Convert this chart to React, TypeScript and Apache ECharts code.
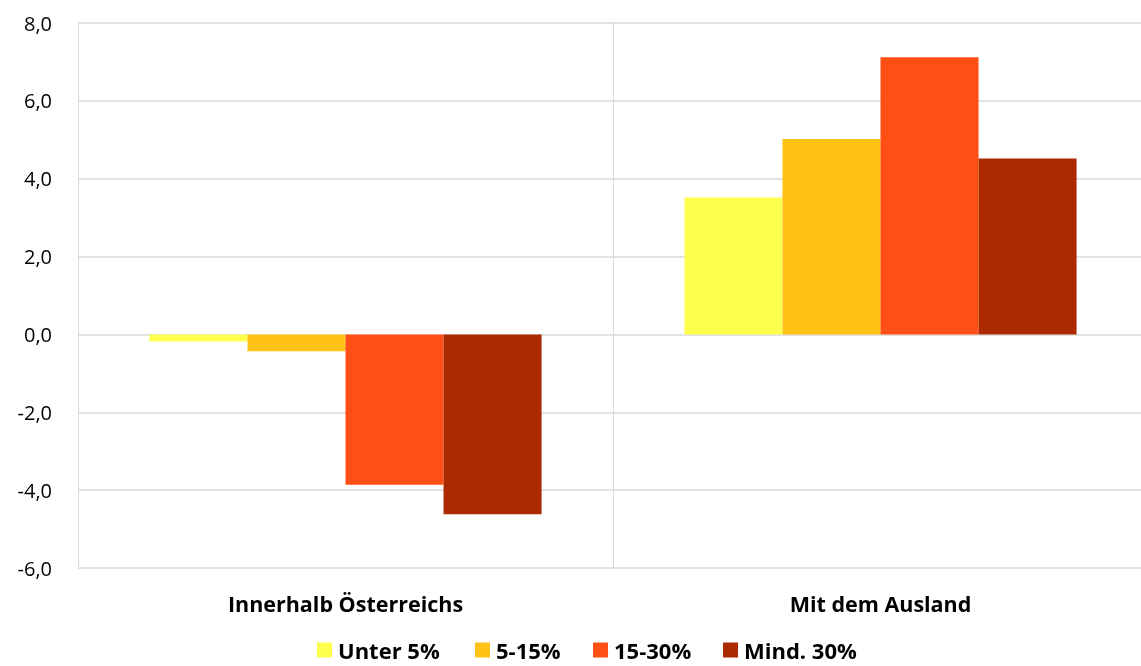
import React, { useEffect, useRef } from "react";
import * as echarts from "echarts";

const categories = ["Innerhalb Österreichs", "Mit dem Ausland"];
const seriesNames = ["Unter 5%", "5-15%", "15-30%", "Mind. 30%"];
const unter5 = [-0.18, 3.52];
const p5_15 = [-0.43, 5.02];
const p15_30 = [-3.86, 7.12];
const mind30 = [-4.62, 4.52];
const colors = ["#FFFF4D", "#FFC217", "#FF4F14", "#AD2A00"];
const legendLefts = [317, 475, 593, 723];

export default function App() {
  const ref = useRef<HTMLDivElement>(null);
  useEffect(() => {
    const chart = echarts.init(ref.current!, null, { renderer: "svg" });
    const values = [unter5, p5_15, p15_30, mind30];
    const font = "'Open Sans', 'Liberation Sans', sans-serif";
    chart.setOption({
      animation: false,
      textStyle: { fontFamily: font },
      grid: { left: 78, top: 23, right: 2, height: 545, containLabel: false },
      legend: seriesNames.map((name, i) => ({
        top: 639,
        left: legendLefts[i],
        padding: 0,
        itemWidth: 15,
        itemHeight: 15,
        itemGap: 0,
        icon: "rect",
        data: [name],
        textStyle: { fontSize: 22, fontWeight: "bold", color: "#000", fontFamily: font, padding: [0, 0, 0, 1] },
      })),
      xAxis: {
        type: "category",
        data: categories,
        position: "bottom",
        axisLine: { show: false, onZero: false },
        axisTick: { show: false },
        splitLine: { show: true, lineStyle: { color: "#D9D9D9", width: 1 } },
        axisLabel: { fontSize: 21.5, fontWeight: "bold", color: "#000", margin: 24, fontFamily: font },
      },
      yAxis: {
        type: "value",
        min: -6,
        max: 8,
        interval: 2,
        axisLine: { show: true, lineStyle: { color: "#D9D9D9" } },
        axisTick: { show: false },
        splitLine: { show: true, lineStyle: { color: "#D9D9D9", width: 1.5 } },
        axisLabel: {
          fontSize: 20,
          color: "#000",
          margin: 26,
          fontFamily: font,
          formatter: (v: number) => v.toFixed(1).replace(".", ","),
        },
      },
      series: seriesNames.map((name, i) => ({
        name,
        type: "bar",
        data: values[i],
        itemStyle: { color: colors[i] },
        barGap: "0%",
        barCategoryGap: "26.7%",
      })),
    });
    return () => chart.dispose();
  }, []);
  return <div ref={ref} style={{ position: "fixed", left: 0, top: 0, width: 1150, height: 666 }} />;
}
